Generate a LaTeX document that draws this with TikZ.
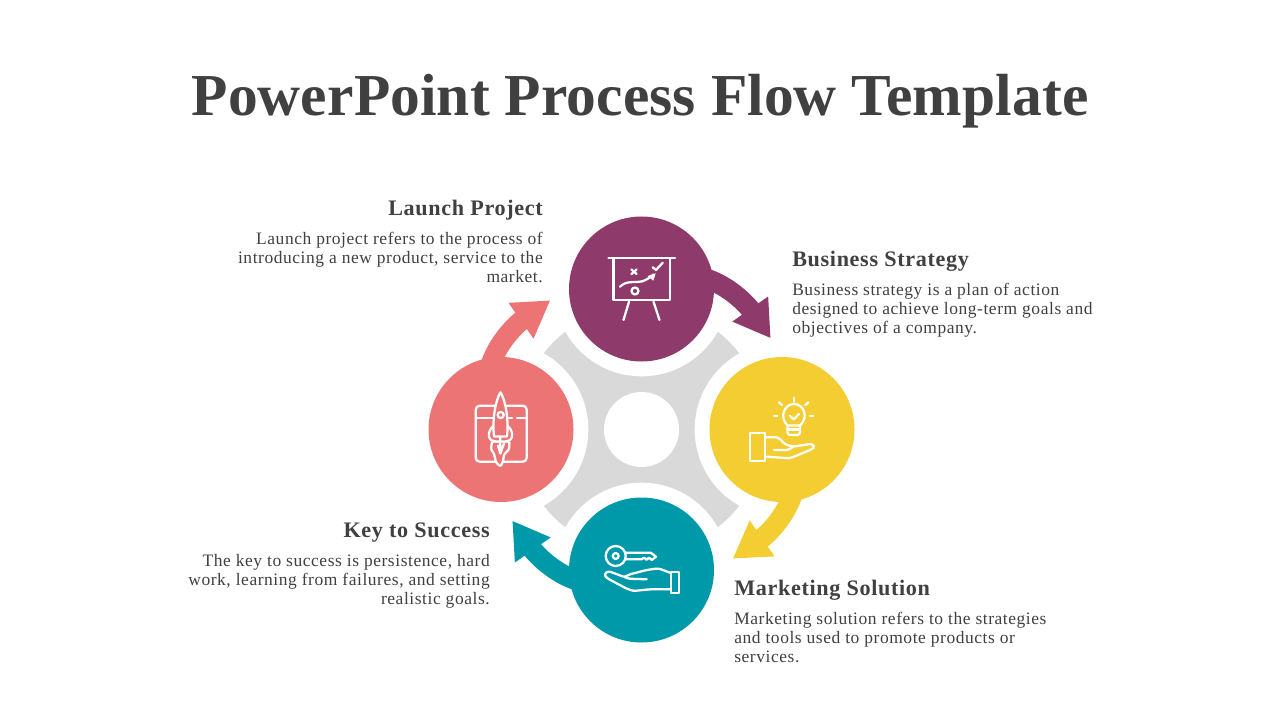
\documentclass[tikz,border=0pt]{standalone}
\usepackage{fontspec}
\setmainfont{Liberation Serif}
\newfontfamily\titlefont[LetterSpace=0.2]{Liberation Serif}
\newfontfamily\headfont[LetterSpace=3.0]{Liberation Serif}
\newfontfamily\bodyfont[LetterSpace=3.2]{Liberation Serif}
\usetikzlibrary{arrows.meta,positioning}
\definecolor{inkgray}{HTML}{404040}
\definecolor{wheelgray}{HTML}{D9D9D9}
\definecolor{strategycol}{HTML}{8E3B6B}
\definecolor{solutioncol}{HTML}{F4CD33}
\definecolor{successcol}{HTML}{0099A9}
\definecolor{launchcol}{HTML}{ED7474}
\pgfdeclarelayer{back}
\pgfdeclarelayer{mid}
\pgfsetlayers{back,mid,main}
\tikzset{
stepdisc/.style={circle, fill=#1, inner sep=0pt, minimum size=108.75pt},
gapdisc/.style={circle, fill=white, inner sep=0pt, minimum size=131pt},
flowline/.style={line width=15pt, -{Triangle[length=26.8pt,width=30.8pt]}},
iconline/.style={draw=white, line width=1.7pt, line cap=round, line join=round},
headtext/.style={text=inkgray, inner sep=0pt, font=\headfont\bfseries\fontsize{16.6}{20}\selectfont},
bodytext/.style={text=inkgray, inner sep=0pt, font=\bodyfont\fontsize{13.1}{14.25}\selectfont}
}
\begin{document}
\begin{tikzpicture}[x=0.75pt,y=-0.75pt,node distance=105.375pt,on grid]
\useasboundingbox (0,0) rectangle (1280,720);
\node[text=inkgray, inner sep=0pt, anchor=base, font=\titlefont\bfseries\fontsize{44.6}{50}\selectfont] (title) at (640,116) {PowerPoint Process Flow Template};
% wheel and its four steps
\node[circle, fill=white, inner sep=0pt, minimum size=56.25pt] (hub) at (641.5,429.5) {};
\node[stepdisc=strategycol] (strategy) [above=of hub] {};
\node[stepdisc=solutioncol] (solution) [right=of hub] {};
\node[stepdisc=successcol] (success) [below=of hub] {};
\node[stepdisc=launchcol] (launch) [left=of hub] {};
\begin{pgfonlayer}{back}
\node[circle, fill=wheelgray, inner sep=0pt, minimum size=186pt] (wheel) at (hub) {};
\foreach \stepname in {strategy,solution,success,launch}
  \node[gapdisc] (gap\stepname) at (\stepname) {};
\end{pgfonlayer}
% arrows between the steps
\coordinate (strategytip) at (770.7,338.3);
\coordinate (solutiontip) at (732.7,558.7);
\coordinate (successtip) at (512.3,520.7);
\coordinate (launchtip) at (550.3,300.3);
\begin{pgfonlayer}{mid}
\draw[flowline,strategycol] (strategy.center) .. controls (698,250) and (746,303) .. (strategytip);
\draw[flowline,solutioncol] (solution.center) .. controls (821,486) and (768.5,534) .. (solutiontip);
\draw[flowline,successcol] (success.center) .. controls (585,609) and (537,556) .. (successtip);
\draw[flowline,launchcol] (launch.center) .. controls (462,373) and (515,325) .. (launchtip);
\end{pgfonlayer}
% board icon
\begin{scope}[shift={(strategy.center)},iconline]
\draw (-33,-30.7) -- (33.5,-30.7);
\draw (-28,-30.7) rectangle (28.5,11);
\draw (-12.5,12.7) -- (-18,31);
\draw (12,12.7) -- (18,31);
\draw (-6.5,2) circle[radius=2.6pt];
\draw (-10,-19.5) -- (-5,-15) (-10,-15) -- (-5,-19.5);
\draw (11.2,-21.7) -- (14.5,-19) -- (21.2,-26.3);
\draw (-21.5,-2.3) .. controls (-15,-9) and (-6,-6) .. (0,-7.5) .. controls (4,-8.5) and (8,-11) .. (12,-14.5);
\fill[white] (6,-13) -- (14.2,-15.7) -- (11.8,-8.3) -- cycle;
\end{scope}
% bulb and hand icon
\begin{scope}[shift={(solution.center)},iconline]
\draw (5.5,-4) .. controls (-3,-12) and (2,-25.5) .. (12,-25.5) .. controls (22,-25.5) and (27,-12) .. (18,-4) -- cycle;
\draw[rounded corners=2pt] (5.5,-4) -- (5.5,5.5) -- (18,5.5) -- (18,-4);
\draw (5.5,0) -- (18,0);
\draw (11.7,-31.8) -- (11.7,-27.8);
\draw (-3,-27.2) -- (0,-24.5);
\draw (26.3,-27.2) -- (23.3,-24.5);
\draw (-8,-13.5) -- (-4.7,-13.5);
\draw (28,-13.5) -- (31.3,-13.5);
\draw (8,-13.5) -- (11.7,-10.2) -- (17,-15.5);
\draw (-32,3.8) rectangle (-17,31.2);
\draw[rounded corners=2pt] (-16.3,7.8) -- (-3.7,7.8) -- (3,14.8) -- (10.7,17.2) -- (29.7,14.2) -- (33,17.2) -- (29.7,19.8) -- (8,28.8) -- (-15.3,27.2);
\draw[rounded corners=2pt] (-8,20.5) -- (6.3,20.5) -- (11.3,17.2);
\end{scope}
% key and hand icon
\begin{scope}[shift={(success.center)},iconline]
\draw (-25.8,-14) circle[radius=7.5pt];
\draw (-25.8,-14) circle[radius=2.2pt];
\draw (-16.5,-17.3) -- (9.2,-17.3) -- (14.5,-13.3) -- (10.2,-10) -- (7.5,-12.3) -- (5,-10.3) -- (2.5,-12.3) -- (0,-10.7) -- (-16.5,-10.7);
\draw (29.2,1.7) rectangle (37.8,23.3);
\draw[rounded corners=2pt] (28.5,2.7) -- (16.8,-1.7) -- (5.2,0) -- (-13.2,4.7) -- (-16.5,7.3) -- (-33.2,1) -- (-37.5,4.3) -- (-34.8,8) -- (-14.8,18.7) -- (-8.2,21) -- (8.5,19.3) -- (28.5,19.3);
\draw[rounded corners=1.5pt] (-16.5,7.3) -- (-13.2,8.7) -- (5.2,9.3);
\end{scope}
% rocket icon
\begin{scope}[shift={(launch.center)},iconline]
\draw[rounded corners=3pt] (-25.3,-23.8) rectangle (25.7,32.2);
\draw (-25.3,-11.2) -- (-8,-11.2) (8,-11.2) -- (11,-11.2) (16,-11.2) -- (25.7,-11.2);
\filldraw[fill=launchcol,rounded corners=1pt] (-9,12) -- (-10,20) -- (-7,24) -- (-5,33) -- (-0.5,37) -- (2,32) -- (3,25) -- (8,20) -- (8.5,12) -- cycle;
\filldraw[fill=launchcol,rounded corners=1.5pt] (-7,-4.5) -- (-12,1.5) -- (-12,9.5) -- (-7,12) -- (6,12) -- (11,9.5) -- (11,1.5) -- (6,-4.5) -- cycle;
\filldraw[fill=launchcol] (-7,7) .. controls (-9,-12) and (-5,-30) .. (-0.5,-37.2) .. controls (4,-30) and (8,-12) .. (6,7) -- cycle;
\draw (-0.3,-14.5) circle[radius=2.3pt];
\draw (-0.7,7) -- (-0.7,22) (-0.7,24) -- (3,14) (-3,16) -- (-0.7,24);
\end{scope}
% texts
\node[headtext, anchor=base east] (launchhead) at (543,215) {Launch Project};
\node[bodytext, anchor=north east, align=right] (launchbody) at (543,232) {Launch project refers to the process of\\introducing a new product, service to the\\market.};
\node[headtext, anchor=base west] (strategyhead) at (792,266) {Business Strategy};
\node[bodytext, anchor=north west, align=left] (strategybody) at (792,283) {Business strategy is a plan of action\\designed to achieve long-term goals and\\objectives of a company.};
\node[headtext, anchor=base west] (solutionhead) at (734,595) {Marketing Solution};
\node[bodytext, anchor=north west, align=left] (solutionbody) at (734,612) {Marketing solution refers to the strategies\\and tools used to promote products or\\services.};
\node[headtext, anchor=base east] (successhead) at (490,537) {Key to Success};
\node[bodytext, anchor=north east, align=right] (successbody) at (490,554) {The key to success is persistence, hard\\work, learning from failures, and setting\\realistic goals.};
\end{tikzpicture}
\end{document}
